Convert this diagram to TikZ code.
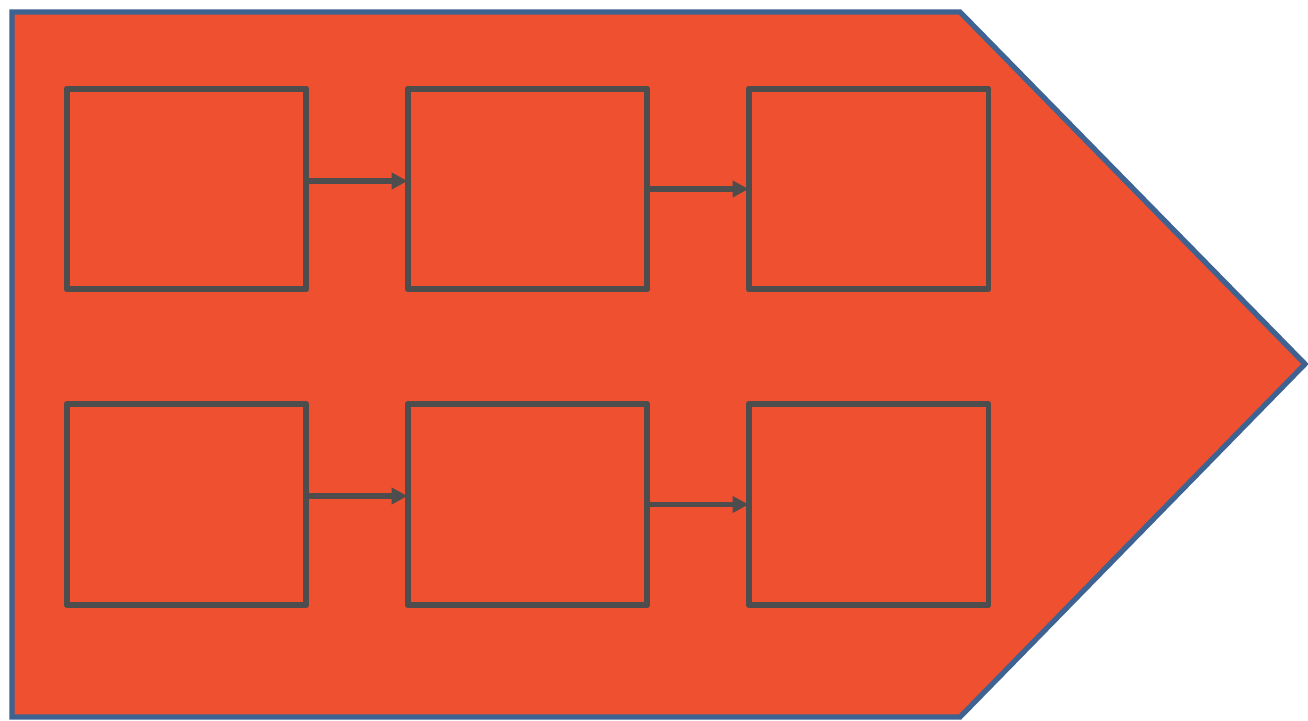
\documentclass[tikz,border=0pt]{standalone}
\usepackage{tikz}
\usetikzlibrary{positioning, arrows.meta}
\definecolor{flame}{HTML}{EE5030}
\definecolor{slate}{HTML}{3E6392}
\definecolor{frame}{HTML}{4D4D4D}

\begin{document}
\begin{tikzpicture}[x=0.02cm, y=-0.02cm,
        stage/.style={rectangle, draw=frame, line width=3.4pt, line join=round,
          minimum width=4.8cm, minimum height=4.02cm, inner sep=0pt},
        arr/.style={-{Triangle[length=0.32cm, width=0.32cm]}, line width=3.4pt,
          color=frame, shorten >=-1.7pt}]

      \useasboundingbox (0,0) rectangle (1308,720);
      \draw[slate, fill=flame, line width=3pt, line join=miter]
        (12,12) -- (960,12) -- (1305,364) -- (960,717) -- (12,717) -- cycle;

      % top row
      \node[stage] (A1) at (186.5,189) {};
      \node[stage] (A2) at (527.5,189) {};
      \node[stage] (A3) at (868.5,189) {};
      % bottom row
      \node[stage] (B1) at (186.5,504.5) {};
      \node[stage] (B2) at (527.5,504.5) {};
      \node[stage] (B3) at (868.5,504.5) {};

      \draw[arr] ([yshift=0.16cm]A1.east) -- ([yshift=0.16cm]A2.west);
      \draw[arr] (A2.east) -- (A3.west);
      \draw[arr] ([yshift=0.17cm]B1.east) -- ([yshift=0.17cm]B2.west);
      \draw[arr] (B2.east) -- (B3.west);
    \end{tikzpicture}
\end{document}
